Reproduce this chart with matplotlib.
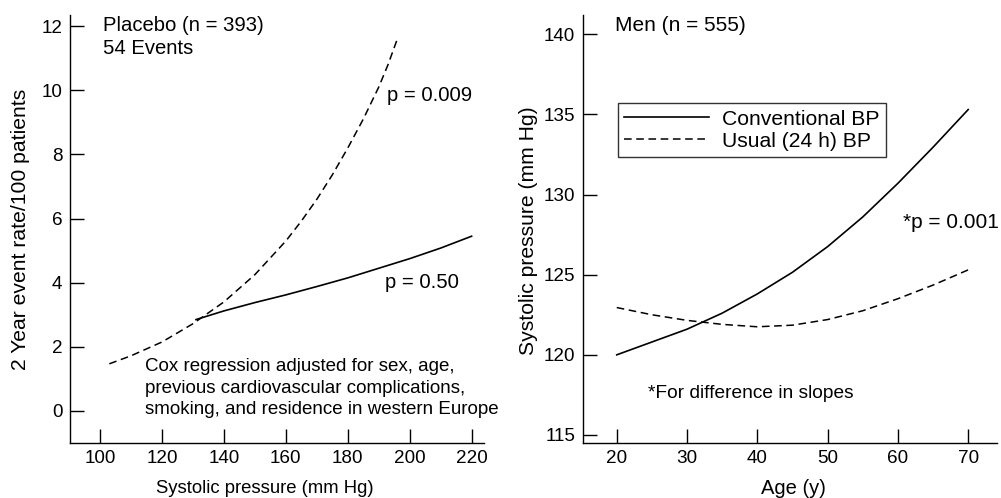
import matplotlib
matplotlib.use("Agg")
from matplotlib import pyplot as plt

plt.rcParams['font.family'] = ['Liberation Sans', 'DejaVu Sans']

# Left panel: event rate vs systolic pressure (placebo group)
sbp_usual = [103, 110, 120, 130, 140, 150, 160, 165, 170, 175, 180, 185, 190, 193, 196]
rate_usual = [1.47, 1.72, 2.15, 2.72, 3.40, 4.25, 5.30, 5.92, 6.60, 7.36, 8.20, 9.10, 10.1, 10.8, 11.6]
sbp_conv = [131, 140, 150, 160, 170, 180, 190, 200, 210, 220]
rate_conv = [2.85, 3.12, 3.38, 3.62, 3.88, 4.15, 4.45, 4.75, 5.08, 5.45]
left_xticks = [100, 120, 140, 160, 180, 200, 220]
left_yticks = [0, 2, 4, 6, 8, 10, 12]

# Right panel: systolic pressure vs age (men)
age = [20, 25, 30, 35, 40, 45, 50, 55, 60, 65, 70]
bp_conv = [120.0, 120.8, 121.6, 122.6, 123.8, 125.15, 126.75, 128.6, 130.7, 132.95, 135.3]
bp_usual = [122.95, 122.5, 122.15, 121.9, 121.75, 121.85, 122.2, 122.75, 123.5, 124.35, 125.3]
right_xticks = [20, 30, 40, 50, 60, 70]
right_yticks = [115, 120, 125, 130, 135, 140]

dash = (0, (5, 3))
fs_ann = 14.6
fs_tick = 13.6
fs_ylab = 15.2

fig = plt.figure(figsize=(10.01, 4.98), dpi=100)
ax1 = fig.add_axes([70 / 1001, 55 / 498, 414 / 1001, 428 / 498])
ax2 = fig.add_axes([583 / 1001, 55 / 498, 414 / 1001, 428 / 498])

for ax in (ax1, ax2):
    ax.spines['top'].set_visible(False)
    ax.spines['right'].set_visible(False)
    for s in ('left', 'bottom'):
        ax.spines[s].set_linewidth(1.0)
    ax.tick_params(direction='in', length=10, width=1.0, labelsize=fs_tick)
    ax.tick_params(axis='y', pad=5.5)
    ax.tick_params(axis='x', pad=5)

# left panel
ax1.plot(sbp_usual, rate_usual, color='black', lw=1.1, linestyle=dash)
ax1.plot(sbp_conv, rate_conv, color='black', lw=1.2)
ax1.set_xlim(90.3, 224)
ax1.set_ylim(-1, 12.35)
ax1.set_xticks(left_xticks)
ax1.set_yticks(left_yticks)
ax1.text(101, 12.03, "Placebo (n = 393)", fontsize=fs_ann, va='center')
ax1.text(101, 11.32, "54 Events", fontsize=fs_ann, va='center')
ax1.text(192.6, 9.84, "p = 0.009", fontsize=fs_ann, va='center')
ax1.text(191.9, 4.0, "p = 0.50", fontsize=fs_ann, va='center')
cox_lines = ["Cox regression adjusted for sex, age,",
             "previous cardiovascular complications,",
             "smoking, and residence in western Europe"]
for i, line in enumerate(cox_lines):
    ax1.text(114.5, 1.375 - i * 0.67, line, fontsize=13.5, va='center')

# right panel
ax2.plot(age, bp_conv, color='black', lw=1.2, label="Conventional BP")
ax2.plot(age, bp_usual, color='black', lw=1.1, linestyle=dash, label="Usual (24 h) BP")
ax2.set_xlim(15.2, 74.1)
ax2.set_ylim(114.5, 141.2)
ax2.set_xticks(right_xticks)
ax2.set_yticks(right_yticks)
ax2.text(19.7, 140.56, "Men (n = 555)", fontsize=15, va='center')
ax2.text(60.7, 128.25, "*p = 0.001", fontsize=15, va='center')
ax2.text(24.4, 117.6, "*For difference in slopes", fontsize=13.8, va='center')
leg = ax2.legend(loc='upper left', bbox_to_anchor=(0.0845, 0.794), borderaxespad=0,
                 fontsize=15.2, frameon=True, fancybox=False, handlelength=4.0,
                 handletextpad=0.65, labelspacing=0.15, borderpad=0.3)
leg.get_frame().set_edgecolor('black')
leg.get_frame().set_linewidth(1.0)

# axis labels
fig.text(21 / 1001, 1 - 229 / 498, "2 Year event rate/100 patients", rotation=90,
         ha='center', va='center', fontsize=fs_ylab)
fig.text(528 / 1001, 1 - 231 / 498, "Systolic pressure (mm Hg)", rotation=90,
         ha='center', va='center', fontsize=fs_ylab)
fig.text(265 / 1001, 1 - 488 / 498, "Systolic pressure (mm Hg)",
         ha='center', va='center', fontsize=13.3)
fig.text(793 / 1001, 1 - 488 / 498, "Age (y)",
         ha='center', va='center', fontsize=14.5)

plt.savefig("out.png", dpi=100)
